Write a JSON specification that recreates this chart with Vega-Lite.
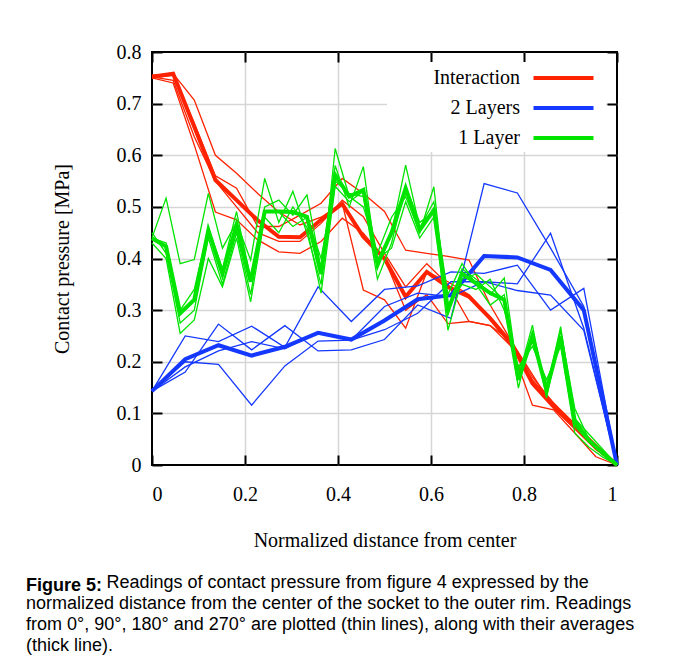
{
  "$schema": "https://vega.github.io/schema/vega-lite/v6.json",
  "width": 465,
  "height": 413,
  "autosize": {"type": "none"},
  "padding": {"left": 152, "top": 52, "right": 58, "bottom": 201},
  "background": "white",
  "data": {"values": [
    {"series":"Interaction","x":0,"avg":0.752,"t0":0.755,"t90":0.750,"t180":0.752,"t270":0.750},
    {"series":"Interaction","x":0.0455,"avg":0.758,"t0":0.758,"t90":0.755,"t180":0.745,"t270":0.740},
    {"series":"Interaction","x":0.0909,"avg":0.655,"t0":0.707,"t90":0.662,"t180":0.636,"t270":0.620},
    {"series":"Interaction","x":0.1364,"avg":0.552,"t0":0.600,"t90":0.560,"t180":0.550,"t270":0.490},
    {"series":"Interaction","x":0.1818,"avg":0.513,"t0":0.565,"t90":0.536,"t180":0.500,"t270":0.475},
    {"series":"Interaction","x":0.2273,"avg":0.474,"t0":0.526,"t90":0.462,"t180":0.450,"t270":0.436},
    {"series":"Interaction","x":0.2727,"avg":0.442,"t0":0.490,"t90":0.462,"t180":0.433,"t270":0.413},
    {"series":"Interaction","x":0.3182,"avg":0.441,"t0":0.465,"t90":0.484,"t180":0.433,"t270":0.410},
    {"series":"Interaction","x":0.3636,"avg":0.475,"t0":0.480,"t90":0.507,"t180":0.468,"t270":0.433},
    {"series":"Interaction","x":0.4091,"avg":0.506,"t0":0.507,"t90":0.555,"t180":0.513,"t270":0.478},
    {"series":"Interaction","x":0.4545,"avg":0.442,"t0":0.339,"t90":0.526,"t180":0.481,"t270":0.449},
    {"series":"Interaction","x":0.5,"avg":0.400,"t0":0.320,"t90":0.491,"t180":0.410,"t270":0.400},
    {"series":"Interaction","x":0.5455,"avg":0.326,"t0":0.265,"t90":0.416,"t180":0.345,"t270":0.300},
    {"series":"Interaction","x":0.5909,"avg":0.374,"t0":0.374,"t90":0.410,"t180":0.390,"t270":0.330},
    {"series":"Interaction","x":0.6364,"avg":0.345,"t0":0.355,"t90":0.404,"t180":0.350,"t270":0.274},
    {"series":"Interaction","x":0.6818,"avg":0.326,"t0":0.330,"t90":0.397,"t180":0.278,"t270":0.278},
    {"series":"Interaction","x":0.7273,"avg":0.284,"t0":0.285,"t90":0.310,"t180":0.270,"t270":0.270},
    {"series":"Interaction","x":0.7727,"avg":0.236,"t0":0.229,"t90":0.240,"t180":0.230,"t270":0.240},
    {"series":"Interaction","x":0.8182,"avg":0.158,"t0":0.116,"t90":0.170,"t180":0.165,"t270":0.175},
    {"series":"Interaction","x":0.8636,"avg":0.113,"t0":0.107,"t90":0.120,"t180":0.120,"t270":0.110},
    {"series":"Interaction","x":0.9091,"avg":0.074,"t0":0.062,"t90":0.080,"t180":0.075,"t270":0.070},
    {"series":"Interaction","x":0.9545,"avg":0.035,"t0":0.016,"t90":0.040,"t180":0.035,"t270":0.030},
    {"series":"Interaction","x":1,"avg":0,"t0":0,"t90":0,"t180":0,"t270":0},
    {"series":"2 Layers","x":0,"avg":0.143,"t0":0.143,"t90":0.143,"t180":0.143,"t270":0.143},
    {"series":"2 Layers","x":0.0714,"avg":0.205,"t0":0.250,"t90":0.200,"t180":0.180,"t270":0.190},
    {"series":"2 Layers","x":0.1429,"avg":0.232,"t0":0.239,"t90":0.195,"t180":0.273,"t270":0.221},
    {"series":"2 Layers","x":0.2143,"avg":0.212,"t0":0.269,"t90":0.116,"t180":0.223,"t270":0.239},
    {"series":"2 Layers","x":0.2857,"avg":0.229,"t0":0.228,"t90":0.192,"t180":0.270,"t270":0.225},
    {"series":"2 Layers","x":0.3571,"avg":0.256,"t0":0.345,"t90":0.240,"t180":0.221,"t270":0.258},
    {"series":"2 Layers","x":0.4286,"avg":0.243,"t0":0.278,"t90":0.242,"t180":0.223,"t270":0.242},
    {"series":"2 Layers","x":0.5,"avg":0.280,"t0":0.340,"t90":0.262,"t180":0.243,"t270":0.307},
    {"series":"2 Layers","x":0.5714,"avg":0.321,"t0":0.347,"t90":0.294,"t180":0.310,"t270":0.333},
    {"series":"2 Layers","x":0.6429,"avg":0.329,"t0":0.374,"t90":0.355,"t180":0.284,"t270":0.326},
    {"series":"2 Layers","x":0.7143,"avg":0.405,"t0":0.371,"t90":0.355,"t180":0.545,"t270":0.355},
    {"series":"2 Layers","x":0.7857,"avg":0.402,"t0":0.387,"t90":0.338,"t180":0.527,"t270":0.351},
    {"series":"2 Layers","x":0.8571,"avg":0.378,"t0":0.300,"t90":0.329,"t180":0.420,"t270":0.449},
    {"series":"2 Layers","x":0.9286,"avg":0.300,"t0":0.342,"t90":0.261,"t180":0.307,"t270":0.265},
    {"series":"2 Layers","x":1,"avg":0,"t0":0,"t90":0,"t180":0,"t270":0},
    {"series":"1 Layer","x":0,"avg":0.439,"t0":0.44,"t90":0.44,"t180":0.45,"t270":0.43},
    {"series":"1 Layer","x":0.0303,"avg":0.423,"t0":0.517,"t90":0.43,"t180":0.41,"t270":0.40},
    {"series":"1 Layer","x":0.0606,"avg":0.294,"t0":0.39,"t90":0.30,"t180":0.275,"t270":0.255},
    {"series":"1 Layer","x":0.0909,"avg":0.32,"t0":0.398,"t90":0.34,"t180":0.30,"t270":0.281},
    {"series":"1 Layer","x":0.1212,"avg":0.455,"t0":0.526,"t90":0.46,"t180":0.44,"t270":0.40},
    {"series":"1 Layer","x":0.1515,"avg":0.37,"t0":0.42,"t90":0.38,"t180":0.35,"t270":0.345},
    {"series":"1 Layer","x":0.1818,"avg":0.465,"t0":0.47,"t90":0.491,"t180":0.45,"t270":0.44},
    {"series":"1 Layer","x":0.2121,"avg":0.355,"t0":0.397,"t90":0.36,"t180":0.33,"t270":0.316},
    {"series":"1 Layer","x":0.2424,"avg":0.491,"t0":0.555,"t90":0.50,"t180":0.49,"t270":0.48},
    {"series":"1 Layer","x":0.2727,"avg":0.491,"t0":0.47,"t90":0.513,"t180":0.49,"t270":0.45},
    {"series":"1 Layer","x":0.3030,"avg":0.49,"t0":0.53,"t90":0.484,"t180":0.462,"t270":0.50},
    {"series":"1 Layer","x":0.3333,"avg":0.481,"t0":0.449,"t90":0.523,"t180":0.48,"t270":0.46},
    {"series":"1 Layer","x":0.3636,"avg":0.37,"t0":0.35,"t90":0.38,"t180":0.40,"t270":0.333},
    {"series":"1 Layer","x":0.3939,"avg":0.562,"t0":0.613,"t90":0.58,"t180":0.55,"t270":0.54},
    {"series":"1 Layer","x":0.4242,"avg":0.52,"t0":0.52,"t90":0.50,"t180":0.526,"t270":0.51},
    {"series":"1 Layer","x":0.4545,"avg":0.533,"t0":0.50,"t90":0.578,"t180":0.52,"t270":0.53},
    {"series":"1 Layer","x":0.4848,"avg":0.39,"t0":0.41,"t90":0.38,"t180":0.36,"t270":0.40},
    {"series":"1 Layer","x":0.5152,"avg":0.45,"t0":0.48,"t90":0.45,"t180":0.43,"t270":0.42},
    {"series":"1 Layer","x":0.5455,"avg":0.536,"t0":0.52,"t90":0.581,"t180":0.54,"t270":0.51},
    {"series":"1 Layer","x":0.5758,"avg":0.455,"t0":0.45,"t90":0.46,"t180":0.47,"t270":0.44},
    {"series":"1 Layer","x":0.6061,"avg":0.494,"t0":0.539,"t90":0.51,"t180":0.49,"t270":0.48},
    {"series":"1 Layer","x":0.6364,"avg":0.30,"t0":0.29,"t90":0.33,"t180":0.261,"t270":0.31},
    {"series":"1 Layer","x":0.6667,"avg":0.371,"t0":0.38,"t90":0.39,"t180":0.36,"t270":0.35},
    {"series":"1 Layer","x":0.6970,"avg":0.352,"t0":0.36,"t90":0.35,"t180":0.37,"t270":0.34},
    {"series":"1 Layer","x":0.7273,"avg":0.333,"t0":0.33,"t90":0.31,"t180":0.345,"t270":0.36},
    {"series":"1 Layer","x":0.7576,"avg":0.32,"t0":0.362,"t90":0.33,"t180":0.32,"t270":0.30},
    {"series":"1 Layer","x":0.7879,"avg":0.165,"t0":0.17,"t90":0.149,"t180":0.184,"t270":0.19},
    {"series":"1 Layer","x":0.8182,"avg":0.249,"t0":0.271,"t90":0.26,"t180":0.245,"t270":0.23},
    {"series":"1 Layer","x":0.8485,"avg":0.145,"t0":0.13,"t90":0.145,"t180":0.155,"t270":0.165},
    {"series":"1 Layer","x":0.8788,"avg":0.249,"t0":0.26,"t90":0.268,"t180":0.245,"t270":0.23},
    {"series":"1 Layer","x":0.9091,"avg":0.085,"t0":0.11,"t90":0.09,"t180":0.075,"t270":0.062},
    {"series":"1 Layer","x":0.9394,"avg":0.048,"t0":0.05,"t90":0.06,"t180":0.045,"t270":0.035},
    {"series":"1 Layer","x":0.9697,"avg":0.023,"t0":0.02,"t90":0.03,"t180":0.025,"t270":0.015},
    {"series":"1 Layer","x":1,"avg":0,"t0":0,"t90":0,"t180":0,"t270":0}
  ]},
  "transform": [{"fold": ["avg","t0","t90","t180","t270"], "as": ["line","y"]}],
  "title": {
    "text": "Figure 5:",
    "subtitle": [
      "normalized distance from the center of the socket to the outer rim. Readings",
      "from 0°, 90°, 180° and 270° are plotted (thin lines), along with their averages",
      "(thick line)."
    ],
    "orient": "bottom",
    "anchor": "start",
    "frame": "group",
    "dx": -126,
    "offset": -14,
    "font": "Liberation Sans",
    "fontSize": 18,
    "fontWeight": "bold",
    "color": "black",
    "lineHeight": 21,
    "subtitleFont": "Liberation Sans",
    "subtitleFontSize": 18,
    "subtitleFontWeight": "normal",
    "subtitleColor": "black",
    "subtitleLineHeight": 21,
    "subtitlePadding": 0
  },
  "layer": [
    {
      "encoding": {
        "x": {"field": "x", "type": "quantitative",
          "scale": {"domain": [0, 1], "nice": false, "zero": false},
          "axis": {"values": [0, 0.2, 0.4, 0.6, 0.8, 1], "format": "~g", "title": "Normalized distance from center",
            "domain": false, "grid": true, "gridColor": "#d6d6d6", "gridWidth": 1.5,
            "gridOpacity": {"condition": {"test": "datum.value <= 0 || datum.value >= 1", "value": 0}, "value": 1},
            "tickSize": -10, "tickColor": "black", "tickWidth": 2,
            "labelPadding": 29, "labelFont": "Liberation Serif", "labelFontSize": 20, "labelColor": "black",
            "titleFont": "Liberation Serif", "titleFontSize": 20, "titleFontWeight": "normal", "titleColor": "black",
            "titleX": 232.5, "titleY": 75, "titleBaseline": "middle"}},
        "y": {"field": "y", "type": "quantitative",
          "scale": {"domain": [0, 0.8], "nice": false},
          "axis": {"values": [0, 0.1, 0.2, 0.3, 0.4, 0.5, 0.6, 0.7, 0.8], "format": "~g", "title": "Contact pressure [MPa]",
            "domain": false, "grid": true, "gridColor": "#d6d6d6", "gridWidth": 1.5,
            "gridOpacity": {"condition": {"test": "datum.value <= 0 || datum.value >= 0.79", "value": 0}, "value": 1},
            "tickSize": -10, "tickColor": "black", "tickWidth": 2,
            "labelPadding": 21, "labelFont": "Liberation Serif", "labelFontSize": 20, "labelColor": "black",
            "titleFont": "Liberation Serif", "titleFontSize": 20, "titleFontWeight": "normal", "titleColor": "black",
            "titleX": -90, "titleY": 206.5, "titleBaseline": "middle", "titleAngle": 270}},
        "color": {"field": "series", "type": "nominal",
          "scale": {"domain": ["Interaction", "2 Layers", "1 Layer"], "range": ["#ff2200", "#1438ff", "#00e400"]},
          "legend": {"title": null, "orient": "none", "legendX": 235, "legendY": 10, "padding": 4,
            "fillColor": "white", "strokeColor": null,
            "symbolType": "M-3,0H3", "symbolSize": 400, "symbolStrokeWidth": 4,
            "labelFont": "Liberation Serif", "labelFontSize": 20, "labelColor": "black",
            "labelAlign": "right", "labelOffset": -55.5, "symbolOffset": 160.5, "rowPadding": 8,
            "encode": {"symbols": {"update": {"strokeWidth": {"value": 4}}}}}},
        "detail": {"field": "line", "type": "nominal"}
      },
      "layer": [
        {"transform": [{"filter": "datum.series === 'Interaction' && datum.line !== 'avg'"}], "mark": {"type": "line", "strokeWidth": 1.3}},
        {"transform": [{"filter": "datum.series === 'Interaction' && datum.line === 'avg'"}], "mark": {"type": "line", "strokeWidth": 4}},
        {"transform": [{"filter": "datum.series === '2 Layers' && datum.line !== 'avg'"}], "mark": {"type": "line", "strokeWidth": 1.3}},
        {"transform": [{"filter": "datum.series === '2 Layers' && datum.line === 'avg'"}], "mark": {"type": "line", "strokeWidth": 4}},
        {"transform": [{"filter": "datum.series === '1 Layer' && datum.line !== 'avg'"}], "mark": {"type": "line", "strokeWidth": 1.3}},
        {"transform": [{"filter": "datum.series === '1 Layer' && datum.line === 'avg'"}], "mark": {"type": "line", "strokeWidth": 4}}
      ]
    },
    {
      "mark": {"type": "point", "opacity": 0},
      "encoding": {
        "x": {"field": "x", "type": "quantitative",
          "axis": {"orient": "top", "values": [0, 0.2, 0.4, 0.6, 0.8, 1], "labels": false, "domain": false, "grid": false,
            "tickSize": -10, "tickColor": "black", "tickWidth": 2,
            "title": "Readings of contact pressure from figure 4 expressed by the",
            "titleFont": "Liberation Sans", "titleFontSize": 18, "titleFontWeight": "normal", "titleColor": "black",
            "titleX": -46, "titleY": 521, "titleAlign": "left", "titleBaseline": "top", "titleAngle": 0}},
        "y": {"field": "y", "type": "quantitative",
          "axis": {"orient": "right", "values": [0, 0.1, 0.2, 0.3, 0.4, 0.5, 0.6, 0.7, 0.8], "labels": false, "title": null, "domain": false, "grid": false,
            "tickSize": -10, "tickColor": "black", "tickWidth": 2}}
      }
    }
  ],
  "resolve": {"axis": {"x": "independent", "y": "independent"}},
  "config": {
    "view": {"stroke": "black", "strokeWidth": 2},
    "font": "Liberation Serif"
  }
}
